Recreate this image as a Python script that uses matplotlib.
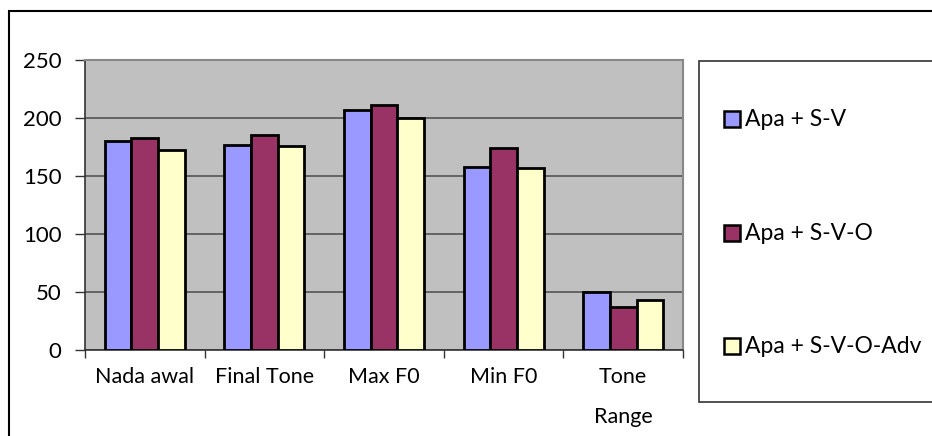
import matplotlib
matplotlib.use("Agg")
import matplotlib.pyplot as plt
from matplotlib.patches import Rectangle
import numpy as np

categories = ["Nada awal", "Final Tone", "Max F0", "Min F0", "Tone\nRange"]
series_names = ["Apa + S-V", "Apa + S-V-O", "Apa + S-V-O-Adv"]
s1 = [180, 177, 207, 157.5, 50]
s2 = [183, 185, 211, 174, 37]
s3 = [172.5, 176, 200, 156.5, 43.5]
colors = ["#9999FF", "#993366", "#FFFFCC"]
yticks = [0, 50, 100, 150, 200, 250]

plt.rcParams['font.family'] = ['Lato', 'DejaVu Sans']

W, H = 932, 436
fig = plt.figure(figsize=(W/100, H/100), dpi=100)

# outer border (left and top visible)
fig.patches.append(Rectangle((9/W, -0.1), 1.5, (H-11)/H + 0.1, transform=fig.transFigure,
                             fill=False, edgecolor='black', linewidth=1.5, zorder=0))

L, R, T, B = 85, 683, 60, 350
ax = fig.add_axes([L/W, 1-B/H, (R-L)/W, (B-T)/H])
ax.set_facecolor('#C0C0C0')

x = np.arange(len(categories))
bw = 0.223
for i, (vals, c) in enumerate(zip([s1, s2, s3], colors)):
    ax.bar(x + (i-1)*bw, vals, width=bw, color=c, edgecolor='black', linewidth=2, zorder=3)

ax.set_xlim(-0.5, len(categories)-0.5)
ax.set_ylim(0, 250)
ax.set_yticks(yticks)
ax.set_yticklabels([str(v) for v in yticks], fontsize=16)
ax.yaxis.grid(True, color='#555555', linewidth=1.2, zorder=1)
ax.set_axisbelow(True)

ax.set_xticks(np.arange(-0.5, len(categories), 1.0))
ax.set_xticklabels([])
ax.set_xticks(x, minor=True)
ax.set_xticklabels(categories, minor=True, fontsize=15.5, linespacing=2.3)
ax.tick_params(axis='x', which='minor', length=0, pad=12)
ax.tick_params(axis='x', which='major', length=6, width=1, color='#333333')
ax.tick_params(axis='y', length=7, width=1, color='#333333', pad=10)

for s in ['left', 'bottom']:
    ax.spines[s].set_color('#333333')
    ax.spines[s].set_linewidth(1.2)
for s in ['right', 'top']:
    ax.spines[s].set_color('#888888')
    ax.spines[s].set_linewidth(1.5)

# legend box
lx0, ly0, lx1, ly1 = 699, 61, 940, 402
fig.patches.append(Rectangle((lx0/W, 1-ly1/H), (lx1-lx0)/W, (ly1-ly0)/H, transform=fig.transFigure,
                             fill=True, facecolor='white', edgecolor='#333333', linewidth=1.2))
ys = [119, 233, 346]
for name, c, yy in zip(series_names, colors, ys):
    fig.patches.append(Rectangle((724/W, 1-(yy+8)/H), 16/W, 16/H, transform=fig.transFigure,
                                 facecolor=c, edgecolor='black', linewidth=1.8, zorder=5))
    fig.text(745/W, 1-yy/H, name, fontsize=16.5, va='center', ha='left')

fig.savefig("out.png", dpi=100)
